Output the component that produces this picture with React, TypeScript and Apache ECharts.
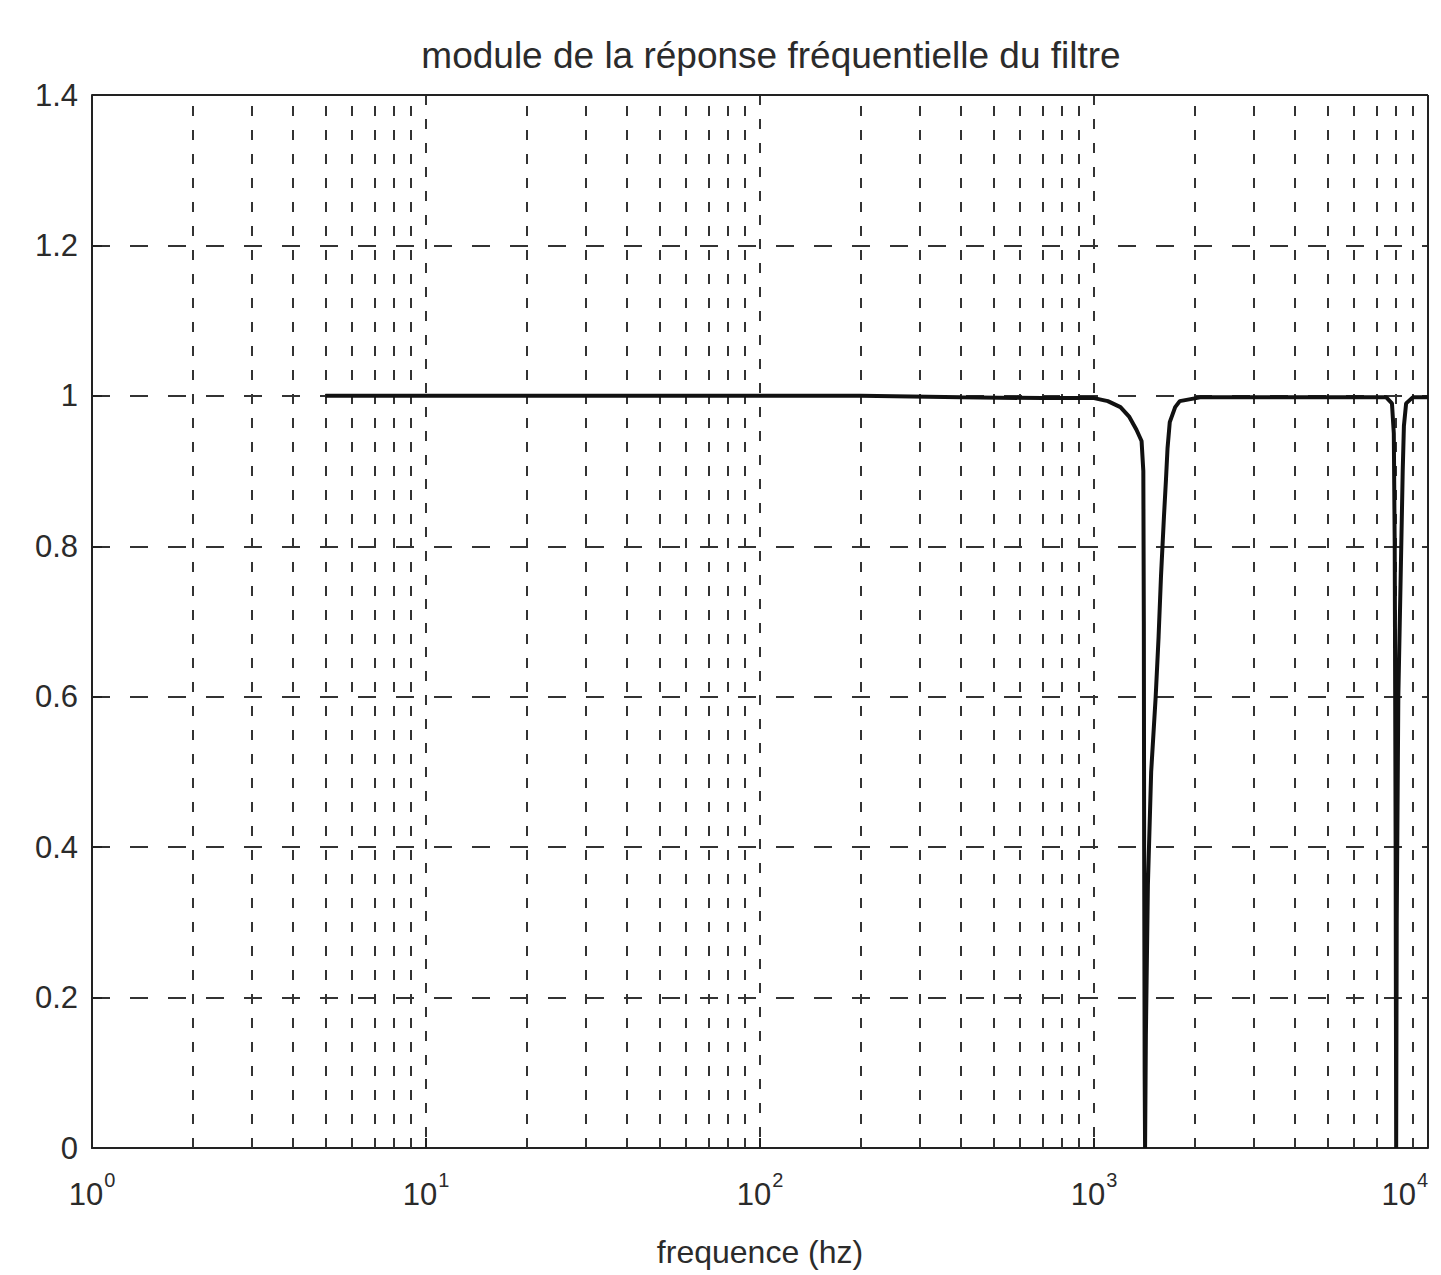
import React, { useEffect, useRef } from "react";
import * as echarts from "echarts";

// Frequency response magnitude of the notch filter
const freqHz = [
  5, 50, 200, 400, 700, 1000, 1100, 1200, 1276, 1340, 1388, 1405, 1410, 1413, 1418, 1422,
  1430, 1450, 1483, 1530, 1561, 1587, 1620, 1643, 1660, 1686, 1750, 1806, 2078,
  3000, 5000, 7500, 7800, 7900, 7950, 8000, 8030, 8060, 8150, 8300, 8400, 8470, 8600, 9000, 10000,
];
const magnitude = [
  1.0, 1.0, 1.0, 0.998, 0.997, 0.997, 0.993, 0.985, 0.972, 0.955, 0.94, 0.9, 0.7, 0.4, 0.1, 0.0,
  0.15, 0.35, 0.5, 0.6, 0.68, 0.76, 0.84, 0.89, 0.93, 0.965, 0.985, 0.993, 0.998,
  0.998, 0.998, 0.998, 0.99, 0.95, 0.8, 0.4, 0.0, 0.3, 0.6, 0.78, 0.9, 0.96, 0.99, 0.998, 0.998,
];

// Log-grid: decades and the 2..9 sub-divisions within each
const decades = [1, 10, 100, 1000];
const subDivisions = [2, 3, 4, 5, 6, 7, 8, 9];
const yTicks = [0, 0.2, 0.4, 0.6, 0.8, 1, 1.2, 1.4];

const titleText = "module de la réponse fréquentielle du filtre";
const xAxisTitle = "frequence (hz)";

const FONT = "'Liberation Sans', 'DejaVu Sans', sans-serif";
const INK = "#2b2b2b";

export default function App() {
  const ref = useRef<HTMLDivElement>(null);

  useEffect(() => {
    if (!ref.current) return;
    const chart = echarts.init(ref.current, undefined, { renderer: "svg" });

    const minorLines: any[] = [];
    decades.forEach((d) => subDivisions.forEach((m) => minorLines.push({ xAxis: d * m })));

    chart.setOption({
      animation: false,
      backgroundColor: "#ffffff",
      title: {
        text: titleText,
        left: 766,
        top: 32,
        textAlign: "center",
        textStyle: { fontFamily: FONT, fontSize: 37, fontWeight: "normal", color: INK },
      },
      grid: { left: 92, right: 13, top: 95, bottom: 127, outerBoundsMode: "none", containLabel: false },
      xAxis: {
        type: "log",
        logBase: 10,
        min: 1,
        max: 10000,
        name: xAxisTitle,
        nameLocation: "middle",
        nameGap: 88,
        nameTextStyle: { fontFamily: FONT, fontSize: 32, color: INK },
        axisLine: { show: true, lineStyle: { color: "#222", width: 2 } },
        axisTick: { show: true, inside: true, length: 10, lineStyle: { color: "#222", width: 2 } },
        axisLabel: {
          margin: 22,
          alignMaxLabel: "right",
          formatter: (v: number) => `{b|10}{s|${Math.round(Math.log10(v))}}`,
          rich: {
            b: { fontFamily: FONT, fontSize: 31, color: INK, verticalAlign: "bottom" },
            s: { fontFamily: FONT, fontSize: 20, color: INK, verticalAlign: "top", padding: [0, 0, 20, 1] },
          },
        },
        splitLine: { show: true, lineStyle: { color: "#333", width: 2, type: [10, 14] } },
      },
      yAxis: {
        type: "value",
        min: 0,
        max: 1.4,
        interval: 0.2,
        axisLine: { show: true, lineStyle: { color: "#222", width: 2 } },
        axisTick: { show: true, inside: true, length: 10, lineStyle: { color: "#222", width: 2 } },
        axisLabel: {
          margin: 14,
          fontFamily: FONT,
          fontSize: 31,
          color: INK,
          formatter: (v: number) => {
            const t = yTicks.find((k) => Math.abs(k - v) < 1e-9);
            return t === undefined ? "" : String(Math.round(t * 10) / 10);
          },
        },
        splitLine: { show: true, lineStyle: { color: "#333", width: 2, type: [18, 20] } },
      },
      series: [
        {
          type: "line",
          data: freqHz.map((f, i) => [f, magnitude[i]]),
          showSymbol: false,
          lineStyle: { color: "#111", width: 4 },
          z: 5,
          markLine: {
            silent: true,
            symbol: "none",
            label: { show: false },
            lineStyle: { color: "#333", width: 2, type: [10, 14] },
            data: minorLines,
          },
        },
        {
          // closed frame around the plotting area (top and right edges)
          type: "line",
          data: [],
          markLine: {
            silent: true,
            symbol: "none",
            label: { show: false },
            lineStyle: { color: "#222", width: 2, type: "solid" },
            data: [{ yAxis: 1.4 }, { xAxis: 10000 }],
          },
        },
      ],
    });

    return () => chart.dispose();
  }, []);

  return (
    <div
      ref={ref}
      style={{ position: "absolute", left: 0, top: 0, width: 1441, height: 1275 }}
    />
  );
}
